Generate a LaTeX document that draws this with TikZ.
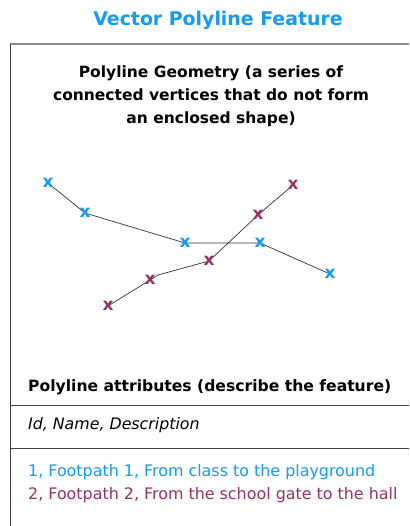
\documentclass[tikz,border=0pt]{standalone}
\usepackage{fontspec}
\setmainfont{DejaVu Sans}
\usetikzlibrary{backgrounds}
\begin{document}
\begin{tikzpicture}[x=1pt,y=-1pt,
  vtx/.style={inner sep=0pt,font=\fontsize{17}{17}\selectfont\bfseries},
  bv/.style={vtx,text=featblue},
  pv/.style={vtx,text=featpurple},
  seg/.style={draw=black!80,line width=0.7pt},
  frame/.style={draw=black!75,line width=1pt},
  lbl/.style={inner sep=0pt,anchor=west}]
\definecolor{featblue}{RGB}{20,155,245}
\definecolor{featpurple}{RGB}{150,50,100}
\useasboundingbox (0,0) rectangle (409,526);
% frame
\draw[draw=black!45,line width=1.3pt] (10,44) -- (409,44);
\draw[frame] (10,44) -- (10,526);
\draw[frame] (10,405) -- (409,405);
\draw[frame] (10,448) -- (409,448);
% title
\node[font=\fontsize{18.9}{18.9}\selectfont\bfseries,text=featblue,inner sep=0pt] (title) at (218,20) {Vector Polyline Feature};
\node[font=\fontsize{15.5}{23}\selectfont\bfseries,align=center,inner sep=0pt] (geom) at (211,96) {Polyline Geometry (a series of\\connected vertices that do not form\\an enclosed shape)};
% vertices
\node[bv] (b1) at (48,183) {x};
\node[bv] (b2) at (85,213) {x};
\node[bv] (b3) at (185,243) {x};
\node[bv] (b4) at (260,243) {x};
\node[bv] (b5) at (330,274) {x};
\node[pv] (p1) at (108,306) {x};
\node[pv] (p2) at (150,280) {x};
\coordinate (pk) at (158,275);
\node[pv] (p3) at (209,261) {x};
\node[pv] (p4) at (258,215) {x};
\node[pv] (p5) at (293,185) {x};
\begin{scope}[on background layer]
\fill[white] (0,0) rectangle (409,526);
\draw[seg] (b1.center) -- (b2.center) -- (b3.center) -- (b4.center) -- (b5.center);
\draw[seg] (p1.center) -- (p2.center) -- (pk) -- (p3.center) -- (p4.center) -- (p5.center);
\end{scope}
% attributes
\node[lbl,font=\fontsize{15.6}{15.6}\selectfont\bfseries] (attr) at (28,387) {Polyline attributes (describe the feature)};
\node[lbl,font=\fontsize{15.8}{15.8}\selectfont\itshape] (cols) at (28,425) {Id, Name, Description};
\node[lbl,font=\fontsize{15.9}{15.9}\selectfont,text=featblue] (r1) at (28,472) {1, Footpath 1, From class to the playground};
\node[lbl,font=\fontsize{15.9}{15.9}\selectfont,text=featpurple] (r2) at (28,495) {2, Footpath 2, From the school gate to the hall};
\end{tikzpicture}
\end{document}
